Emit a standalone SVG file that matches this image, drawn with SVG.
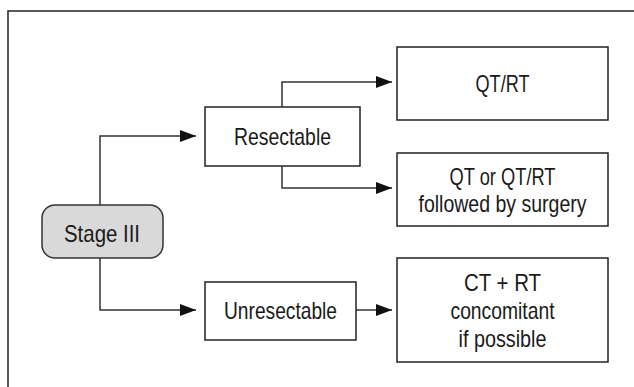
<svg xmlns="http://www.w3.org/2000/svg" width="634" height="387" viewBox="0 0 634 387">
<defs>
<marker id="arr" markerWidth="16" markerHeight="12" refX="16" refY="6" orient="auto" markerUnits="userSpaceOnUse">
<path d="M0,0 L16,6 L0,12 Z" fill="#111"/>
</marker>
<style>
.box{fill:#fff;stroke:#222;stroke-width:1.5}
.start{fill:#d9d9d9;stroke:#333;stroke-width:1.5}
.lbl{font-family:"Liberation Sans",Arial,sans-serif;font-size:24px;fill:#1a1a1a;text-anchor:middle}
.con{fill:none;stroke:#333;stroke-width:1.5;marker-end:url(#arr)}
</style>
</defs>
<rect width="634" height="387" fill="#fff"/>
<path d="M8,387 V11 H634" fill="none" stroke="#222" stroke-width="1.5"/>
<g id="connectors">
<path class="con" d="M100,205 V136 H196"/>
<path class="con" d="M100,258 V310 H196"/>
<path class="con" d="M282,107 V82 H392"/>
<path class="con" d="M282,166 V188 H392"/>
<path class="con" d="M356,310 H392"/>
</g>
<g id="stage3">
<rect class="start" x="42" y="205" width="121" height="53" rx="13"/>
<text class="lbl" x="102" y="242" textLength="76" lengthAdjust="spacingAndGlyphs">Stage III</text>
</g>
<g id="resectable">
<rect class="box" x="205" y="107" width="155" height="59"/>
<text class="lbl" x="282.5" y="145" textLength="97" lengthAdjust="spacingAndGlyphs">Resectable</text>
</g>
<g id="unresectable">
<rect class="box" x="205" y="282" width="151" height="58"/>
<text class="lbl" x="280.5" y="318.5" textLength="113" lengthAdjust="spacingAndGlyphs">Unresectable</text>
</g>
<g id="qtrt">
<rect class="box" x="397" y="47" width="211" height="73"/>
<text class="lbl" x="502.5" y="92" textLength="54" lengthAdjust="spacingAndGlyphs">QT/RT</text>
</g>
<g id="qtsurgery">
<rect class="box" x="397" y="153" width="211" height="73"/>
<text class="lbl" x="502.5" y="184.5" textLength="106" lengthAdjust="spacingAndGlyphs">QT or QT/RT</text>
<text class="lbl" x="502.5" y="211.5" textLength="168" lengthAdjust="spacingAndGlyphs">followed by surgery</text>
</g>
<g id="ctrt">
<rect class="box" x="397" y="258" width="211" height="104"/>
<text class="lbl" x="502.5" y="290.5" textLength="77" lengthAdjust="spacingAndGlyphs">CT + RT</text>
<text class="lbl" x="502.5" y="318.5" textLength="104" lengthAdjust="spacingAndGlyphs">concomitant</text>
<text class="lbl" x="502.5" y="346.5" textLength="88" lengthAdjust="spacingAndGlyphs">if possible</text>
</g>
</svg>
